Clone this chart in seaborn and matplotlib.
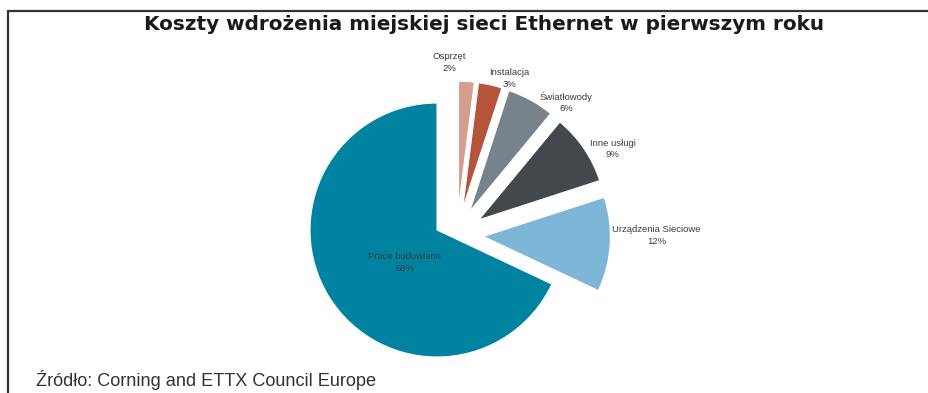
import matplotlib
matplotlib.use("Agg")
import matplotlib.pyplot as plt
from matplotlib.lines import Line2D
import seaborn as sns

# ---- data ----
categories = ["Osprzęt", "Instalacja", "Światłowody", "Inne usługi",
              "Urządzenia Sieciowe", "Prace budowlane"]
shares = [2, 3, 6, 9, 12, 68]
pct_labels = ["2%", "3%", "6%", "9%", "12%", "68%"]
title_text = "Koszty wdrożenia miejskiej sieci Ethernet w pierwszym roku"
source_text = "Źródło: Corning and ETTX Council Europe"

# ---- styles ----
colors = ["#D59D8B", "#B6533B", "#77828A", "#42484B", "#7DB6D6", "#0083A1"]
explode = [0.21, 0.21, 0.21, 0.21, 0.21, 0.0]
group_shift = (0.156, -0.038)   # extra offset of the exploded group (radius units)

sns.set_theme(style="white")
plt.rcParams["font.family"] = ["Liberation Sans", "DejaVu Sans"]

W, H, DPI = 929, 393, 100
R = 127.0          # pie radius in pixels
CX, CY = 437, 230  # pie centre in pixels (from top-left)

fig = plt.figure(figsize=(W / DPI, H / DPI), dpi=DPI)
fig.patch.set_facecolor("white")
ax = fig.add_axes([0, 0, 1, 1])

wedges, _ = ax.pie(shares, colors=colors, explode=explode, startangle=90,
                   counterclock=False, radius=1.0,
                   wedgeprops=dict(edgecolor="white", linewidth=0.8))
for w, e in zip(wedges, explode):
    if e > 0:
        c = w.center
        w.set_center((c[0] + group_shift[0], c[1] + group_shift[1]))

ax.set_xlim(-CX / R, (W - CX) / R)
ax.set_ylim(-(H - CY) / R, CY / R)
ax.set_aspect("auto")
ax.axis("off")

# label anchor points in pixels
label_px = [(449.5, 62.5), (509.5, 78.5), (566, 102), (612.5, 149),
            (656.5, 235.5), (405, 262.5)]
for cat, pct, (px, py) in zip(categories, pct_labels, label_px):
    ax.text((px - CX) / R, (CY - py) / R, f"{cat}\n{pct}", ha="center",
            va="center", fontsize=6.8, color="#3d3d3d", linespacing=1.35)

# frame lines
fig.add_artist(Line2D([8 / W, 1.0], [1 - 11 / H, 1 - 11 / H],
                      transform=fig.transFigure, color="#333333", lw=1.6))
fig.add_artist(Line2D([8 / W, 8 / W], [0.0, 1 - 11 / H],
                      transform=fig.transFigure, color="#333333", lw=1.6))

renderer = fig.canvas.get_renderer()


def fit_width(t, target):
    for _ in range(3):
        wpx = t.get_window_extent(renderer).width
        t.set_fontsize(t.get_fontsize() * target / wpx)


title = fig.text(484.5 / W, 1 - 30 / H, title_text, ha="center", va="baseline",
                 fontsize=14, fontweight="bold", family="DejaVu Sans",
                 color="#1a1a1a")
fit_width(title, 683)

src = fig.text(36 / W, 1 - 386 / H, source_text, ha="left", va="baseline",
               fontsize=12, color="#333333")
fit_width(src, 340)

fig.savefig("out.png", dpi=DPI, facecolor="white")
